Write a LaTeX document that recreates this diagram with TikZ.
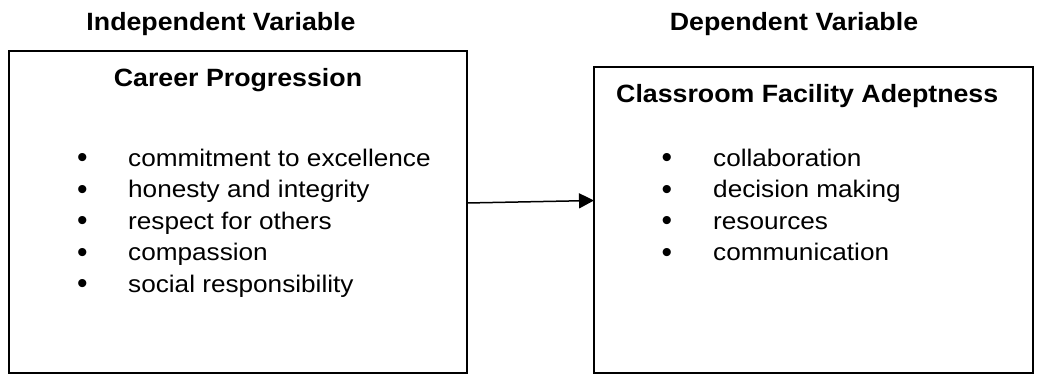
\documentclass[tikz,border=0pt]{standalone}
\usepackage{fontspec}
\usepackage{graphicx}
\setmainfont{Liberation Sans}
\usetikzlibrary{arrows.meta}
\newcommand{\wideb}[1]{\scalebox{1.07}[1]{#1}}
\newcommand{\widei}[1]{\scalebox{1.09}[1]{#1}}
\newcommand{\bul}{\raisebox{-1.5pt}{\scalebox{1.25}{•}}}
\begin{document}
\begin{tikzpicture}[x=1pt,y=-1pt,
  box/.style={draw=black,line width=1.6pt,inner sep=0pt,outer sep=0pt,anchor=north west},
  head/.style={inner sep=0pt,anchor=base,font=\fontsize{25}{28}\selectfont\bfseries},
  itemtxt/.style={inner sep=0pt,anchor=base west,font=\fontsize{24}{28}\selectfont},
  conn/.style={line width=1.5pt,-{Triangle[length=15pt,width=15pt]}}]
\useasboundingbox (0,0) rectangle (1040,375);
\node[box,minimum width=458pt,minimum height=322pt] (L) at (9,51) {};
\node[box,minimum width=439pt,minimum height=306pt] (R) at (594,67) {};
\node[head] (hl) at (221,30) {\wideb{Independent Variable}};
\node[head] (hr) at (794,30) {\wideb{Dependent Variable}};
\node[head] (tl) at (238,86) {\wideb{Career Progression}};
\node[head,anchor=base west] (tr) at (616,102) {\wideb{Classroom Facility Adeptness}};
\node[itemtxt] (l1) at (77,166) {\makebox[51pt][l]{\bul}\widei{commitment to excellence}};
\node[itemtxt] (l2) at (77,197.5) {\makebox[51pt][l]{\bul}\widei{honesty and integrity}};
\node[itemtxt] (l3) at (77,229) {\makebox[51pt][l]{\bul}\widei{respect for others}};
\node[itemtxt] (l4) at (77,260.5) {\makebox[51pt][l]{\bul}\widei{compassion}};
\node[itemtxt] (l5) at (77,292) {\makebox[51pt][l]{\bul}\widei{social responsibility}};
\node[itemtxt] (r1) at (661.5,166) {\makebox[51.5pt][l]{\bul}\widei{collaboration}};
\node[itemtxt] (r2) at (661.5,197.5) {\makebox[51.5pt][l]{\bul}\widei{decision making}};
\node[itemtxt] (r3) at (661.5,229) {\makebox[51.5pt][l]{\bul}\widei{resources}};
\node[itemtxt] (r4) at (661.5,260.5) {\makebox[51.5pt][l]{\bul}\widei{communication}};
\draw[conn] ([yshift=9pt]L.east) -- ([yshift=19.5pt]R.west);
\end{tikzpicture}
\end{document}
